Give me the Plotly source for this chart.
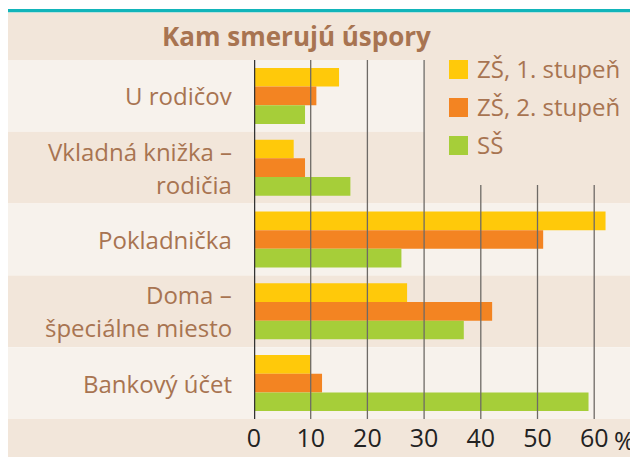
import plotly.graph_objects as go

# ---- data ----
categories = ["U rodičov", "Vkladná knižka –\nrodičia", "Pokladnička",
              "Doma –\nšpeciálne miesto", "Bankový účet"]
series_names = ["ZŠ, 1. stupeň", "ZŠ, 2. stupeň", "SŠ"]
zs1 = [15, 7, 62, 27, 10]
zs2 = [11, 9, 51, 42, 12]
ss = [9, 17, 26, 37, 59]
tick_vals = [0, 10, 20, 30, 40, 50, 60]
tick_text = ["0", "10", "20", "30", "40", "50", "60"]
title_text = "Kam smerujú úspory"

colors = ["#FFC90A", "#F38422", "#A6CE39"]
BROWN = "#A87451"
LIGHT = "#F7F2EC"
DARK = "#F2E6DA"
FONT = "Open Sans"

# page body adds an 8px offset; the figure fills the rest of the window
OFF = 8
W, H = 638 - OFF, 457 - OFF
L, R, T, B = 254 - OFF, 0, 60 - OFF, 38
PW, PH = W - L - R, H - T - B


def px(x):  # x in window pixels -> paper
    return (x - OFF - L) / PW


def py(y):  # y in window pixels -> paper
    return (H - B - (y - OFF)) / PH


fig = go.Figure()
for name, vals, c in zip(series_names, [zs1, zs2, ss], colors):
    fig.add_trace(go.Bar(
        y=list(range(len(categories))), x=vals, name=name, orientation="h",
        marker=dict(color=c, line=dict(width=0)), showlegend=False,
    ))

shapes = []
# teal top line
shapes.append(dict(type="rect", xref="paper", yref="paper", x0=px(OFF), x1=1,
                   y0=py(12.5), y1=py(9), fillcolor="#12B5BA", line_width=0, layer="below"))
# title band
shapes.append(dict(type="rect", xref="paper", yref="paper", x0=px(OFF), x1=1,
                   y0=py(60), y1=py(12.5), fillcolor=DARK, line_width=0, layer="below"))
# row bands
for i in range(len(categories)):
    shapes.append(dict(type="rect", xref="paper", yref="y", x0=px(OFF), x1=1,
                       y0=i - 0.5, y1=i + 0.5, fillcolor=LIGHT if i % 2 == 0 else DARK,
                       line_width=0, layer="below"))
# bottom band
shapes.append(dict(type="rect", xref="paper", yref="paper", x0=px(OFF), x1=1,
                   y0=py(457), y1=py(419), fillcolor=DARK, line_width=0, layer="below"))
# legend box
shapes.append(dict(type="rect", xref="paper", yref="paper", x0=px(425), x1=1,
                   y0=py(185), y1=py(60), fillcolor=DARK, line_width=0, layer="below"))
# gridlines (above bars)
for v in tick_vals:
    if v == 0:
        shapes.append(dict(type="line", xref="x", yref="paper", x0=v, x1=v, y0=0, y1=1,
                           line=dict(color="#333333", width=2.5), layer="above"))
    else:
        top = 1 if v <= 30 else py(185)
        shapes.append(dict(type="line", xref="x", yref="paper", x0=v, x1=v, y0=0, y1=top,
                           line=dict(color="#6E6A66", width=1.3), layer="above"))

annotations = []
# title
annotations.append(dict(text="<b>" + title_text + "</b>", xref="paper", yref="paper",
                        x=px(296), y=py(36), xanchor="center", yanchor="middle",
                        showarrow=False, font=dict(family=FONT, size=26, color=BROWN)))
# category labels
for i, cat in enumerate(categories):
    lines = cat.split("\n")
    n = len(lines)
    for j, line in enumerate(lines):
        shift = (n - 1) / 2 * 33 - j * 33
        annotations.append(dict(text=line, xref="paper", yref="y", x=px(234), y=i,
                                xanchor="right", yanchor="middle", yshift=shift,
                                showarrow=False,
                                font=dict(family=FONT, size=24, color=BROWN)))
# legend
for k, (name, c) in enumerate(zip(series_names, colors)):
    yc = 69.5 + k * 38
    shapes.append(dict(type="rect", xref="paper", yref="paper", x0=px(449), x1=px(468),
                       y0=py(yc + 9.5), y1=py(yc - 9.5), fillcolor=c, line_width=0, layer="above"))
    annotations.append(dict(text=name, xref="paper", yref="paper", x=px(475), y=py(yc - 1),
                            xanchor="left", yanchor="middle", showarrow=False,
                            font=dict(family=FONT, size=24, color=BROWN)))
# percent sign
annotations.append(dict(text="%", xref="paper", yref="paper", x=px(612), y=py(440),
                        xanchor="left", yanchor="middle", showarrow=False,
                        font=dict(family=FONT, size=25, color="#222222")))

fig.update_layout(
    width=W, height=H,
    margin=dict(l=L, r=R, t=T, b=B, pad=0),
    paper_bgcolor="white", plot_bgcolor="rgba(0,0,0,0)",
    barmode="group", bargap=0.22, bargroupgap=0,
    shapes=shapes, annotations=annotations,
    xaxis=dict(range=[0, (638 - 254) / (340.2 / 60)], tickvals=tick_vals, ticktext=tick_text,
               showgrid=False, zeroline=False, showline=False, ticks="",
               tickfont=dict(family=FONT, size=25, color="#222222"),
               ticklabelstandoff=2, fixedrange=True),
    yaxis=dict(range=[len(categories) - 0.5, -0.5], showticklabels=False,
               showgrid=False, zeroline=False, showline=False, ticks="", fixedrange=True),
)

fig.write_html("out.html")
